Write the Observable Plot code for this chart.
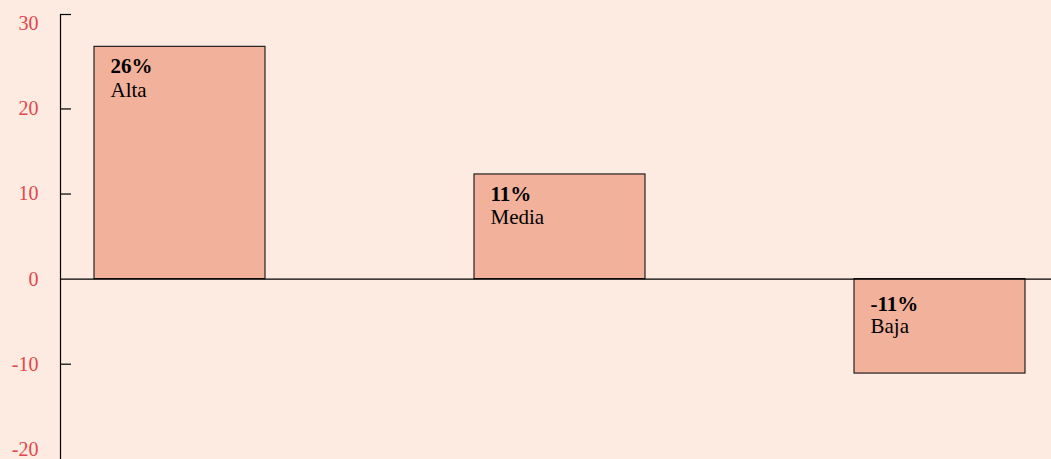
<!DOCTYPE html>
<html>
<head>
<meta charset="utf-8">
<script src="https://cdn.jsdelivr.net/npm/d3@7"></script>
<script src="https://cdn.jsdelivr.net/npm/@observablehq/plot@0.6"></script>
<style>
  html, body { margin: 0; padding: 0; background: #fdeae1; }
  #chart svg { display: block; }
</style>
</head>
<body>
<div id="chart"></div>
<script>
const categories = ["Alta", "Media", "Baja"];
const values = [27.3, 12.3, -11.1];
const valueLabels = ["26%", "11%", "-11%"];
const tickLabels = [30, 20, 10, 0, -10, -20];
const tickMarks = [31.1, 20, 10, -10];
const yDomain = [-21.2, 31.1];

const data = categories.map((c, i) => ({cat: c, value: values[i], label: valueLabels[i]}));
const pos = data.filter(d => d.value >= 0);
const neg = data.filter(d => d.value < 0);

const serif = "'Liberation Serif', 'Times New Roman', serif";
const textOpts = (dy, bold) => ({
  x: "cat",
  textAnchor: "start",
  lineAnchor: "bottom",
  dx: -69.5,
  dy,
  fontSize: 21,
  fontFamily: serif,
  fontWeight: bold ? "bold" : "normal",
  fill: "black"
});

const chart = Plot.plot({
  width: 1051,
  height: 459,
  marginTop: 14,
  marginBottom: 0,
  marginLeft: 60,
  marginRight: 0,
  style: {background: "#fdeae1", fontFamily: serif},
  x: {domain: categories, paddingInner: 0.55, paddingOuter: 0.076, align: 0.56, axis: null},
  y: {domain: yDomain, axis: null},
  marks: [
    Plot.barY(data, {x: "cat", y: "value", fill: "#f2b19b", stroke: "#111", strokeWidth: 1.1}),
    Plot.ruleY([0], {stroke: "black", strokeWidth: 1.2}),
    Plot.axisY({ticks: tickLabels, tickFormat: d => String(d), tickSize: 0, tickPadding: 22, fill: "#e0474c", fontSize: 20, fontFamily: serif, label: null}),
    Plot.axisY({ticks: tickMarks, tickSize: -11, text: null, stroke: "black", strokeWidth: 1.2, label: null}),
    Plot.frame({anchor: "left", stroke: "black", strokeWidth: 1.2}),
    Plot.text(pos, {...textOpts(26.5, true), y: "value", text: "label"}),
    Plot.text(pos, {...textOpts(50, false), y: "value", text: "cat"}),
    Plot.text(neg, {...textOpts(32, true), y: () => 0, text: "label"}),
    Plot.text(neg, {...textOpts(54, false), y: () => 0, text: "cat"})
  ]
});
document.getElementById("chart").appendChild(chart);
</script>
</body>
</html>
